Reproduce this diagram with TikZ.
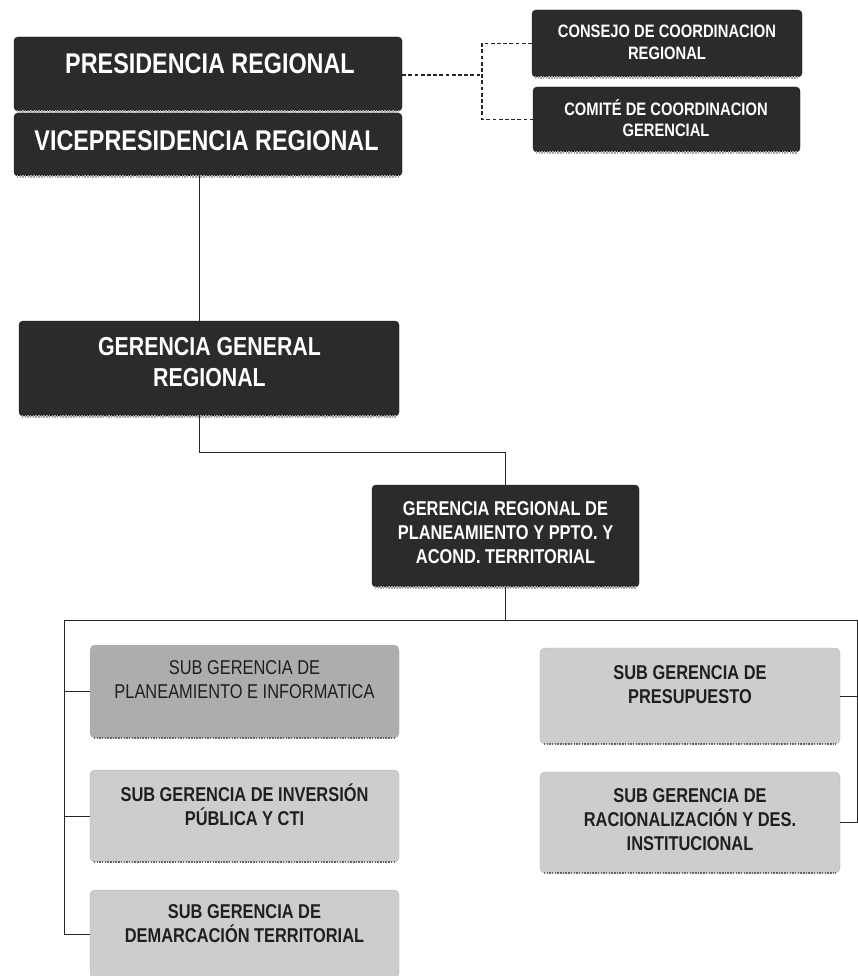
\documentclass[tikz,border=0pt]{standalone}
\usepackage{fontspec}
\setmainfont[FakeStretch=0.82]{Liberation Sans}
\definecolor{dfill}{HTML}{2B2B2B}
\definecolor{lfill}{HTML}{CDCDCD}
\definecolor{mfill}{HTML}{ADADAD}
\begin{document}
\begin{tikzpicture}[x=1pt,y=-1pt,
  darkbox/.style={draw=black!90, fill=dfill, rounded corners=4pt, inner sep=0pt},
  lightbox/.style={draw=black!30, fill=lfill, rounded corners=5pt, inner sep=0pt},
  dedge/.style={line width=2.8pt, draw=gray!70, dash pattern=on 1.5pt off 1.2pt},
  ledge/.style={line width=2pt, draw=black!60, dash pattern=on 1.5pt off 1.2pt},
  conn/.style={draw=black!85, line width=1pt},
  dconn/.style={draw=black!85, line width=1.2pt, dash pattern=on 3.8pt off 2.4pt},
  dtxt/.style={text=white, align=center, inner sep=0pt},
  ltxt/.style={text=black!88, align=center, inner sep=0pt},
  fA/.style={font=\bfseries\fontsize{28.5}{33}\selectfont},
  fB/.style={font=\bfseries\fontsize{26}{31}\selectfont},
  fC/.style={font=\bfseries\fontsize{20}{24}\selectfont},
  fCr/.style={font=\fontsize{20}{24}\selectfont},
  fD/.style={font=\bfseries\fontsize{18}{21.5}\selectfont}
]
\clip (0,0) rectangle (858,976);
\fill[white] (0,0) rectangle (858,976);

% boxes
\node[darkbox, minimum width=388pt, minimum height=74pt] (pres) at (208,74) {};
\node[darkbox, minimum width=388pt, minimum height=63pt] (vice) at (208,144.5) {};
\node[darkbox, minimum width=270pt, minimum height=67pt] (cons) at (667,43.5) {};
\node[darkbox, minimum width=267pt, minimum height=65pt] (comi) at (666.5,119.5) {};
\node[darkbox, minimum width=380pt, minimum height=95pt] (gg) at (209,368.5) {};
\node[darkbox, minimum width=267pt, minimum height=102pt] (gr) at (505.5,536) {};
\node[lightbox, fill=mfill, minimum width=309pt, minimum height=93pt] (sg1) at (244.5,691.5) {};
\node[lightbox, minimum width=309pt, minimum height=92pt] (sg2) at (244.5,816) {};
\node[lightbox, minimum width=309pt, minimum height=88pt] (sg3) at (244.5,934) {};
\node[lightbox, minimum width=300pt, minimum height=96pt] (r1) at (690,696) {};
\node[lightbox, minimum width=300pt, minimum height=101pt] (r2) at (690,822.5) {};

% bottom edges
\foreach \b in {pres,vice,cons,comi,gg,gr}
  \draw[dedge] ([xshift=3pt]\b.south west) -- ([xshift=-3pt]\b.south east);
\foreach \b in {sg1,sg2,r1,r2}
  \draw[ledge] ([xshift=4pt]\b.south west) -- ([xshift=-4pt]\b.south east);

% texts
\node[dtxt, fA] (pres-t) at (210,63.5) {PRESIDENCIA REGIONAL};
\node[dtxt, fA] (vice-t) at (206.5,141) {VICEPRESIDENCIA REGIONAL};
\node[dtxt, fD] (cons-t) at (667,42.5) {CONSEJO DE COORDINACION\\REGIONAL};
\node[dtxt, fD] (comi-t) at (666,118) {COMITÉ DE COORDINACION\\GERENCIAL};
\node[dtxt, fB] (gg-t) at (209.5,362.5) {GERENCIA GENERAL\\REGIONAL};
\node[dtxt, fC] (gr-t) at (505.5,532.5) {GERENCIA REGIONAL DE\\PLANEAMIENTO Y PPTO. Y\\ACOND. TERRITORIAL};
\node[ltxt, fCr] (sg1-t) at (244.5,680) {SUB GERENCIA DE\\PLANEAMIENTO E INFORMATICA};
\node[ltxt, fC] (sg2-t) at (244.5,805) {SUB GERENCIA DE INVERSIÓN\\PÚBLICA Y CTI};
\node[ltxt, fC] (sg3-t) at (244.5,924) {SUB GERENCIA DE\\DEMARCACIÓN TERRITORIAL};
\node[ltxt, fC] (r1-t) at (690,685) {SUB GERENCIA DE\\PRESUPUESTO};
\node[ltxt, fC] (r2-t) at (690,819.5) {SUB GERENCIA DE\\RACIONALIZACIÓN Y DES.\\INSTITUCIONAL};

% dashed connectors
\coordinate (dj) at (482,75);
\draw[dconn] (pres.east |- dj) -- (dj);
\draw[dconn] (cons.west) -| (dj) |- (comi.west);

% solid connectors
\coordinate (t1) at (199,0);
\coordinate (busL) at (64,620);
\coordinate (busR) at (857,620);
\draw[conn] (vice.south -| t1) -- (gg.north -| t1);
\draw[conn] (gg.south -| t1) -- ++(0,36) -| (gr.north);
\draw[conn] (gr.south) -- (gr.south |- busL);
\draw[conn] (busL) -- (busR);
\draw[conn] (busL) |- (sg3.west);
\draw[conn] (busL |- sg1.west) -- (sg1.west);
\draw[conn] (busL |- sg2.west) -- (sg2.west);
\draw[conn] (busR) |- (r2.east);
\draw[conn] (busR |- r1.east) -- (r1.east);
\end{tikzpicture}
\end{document}
